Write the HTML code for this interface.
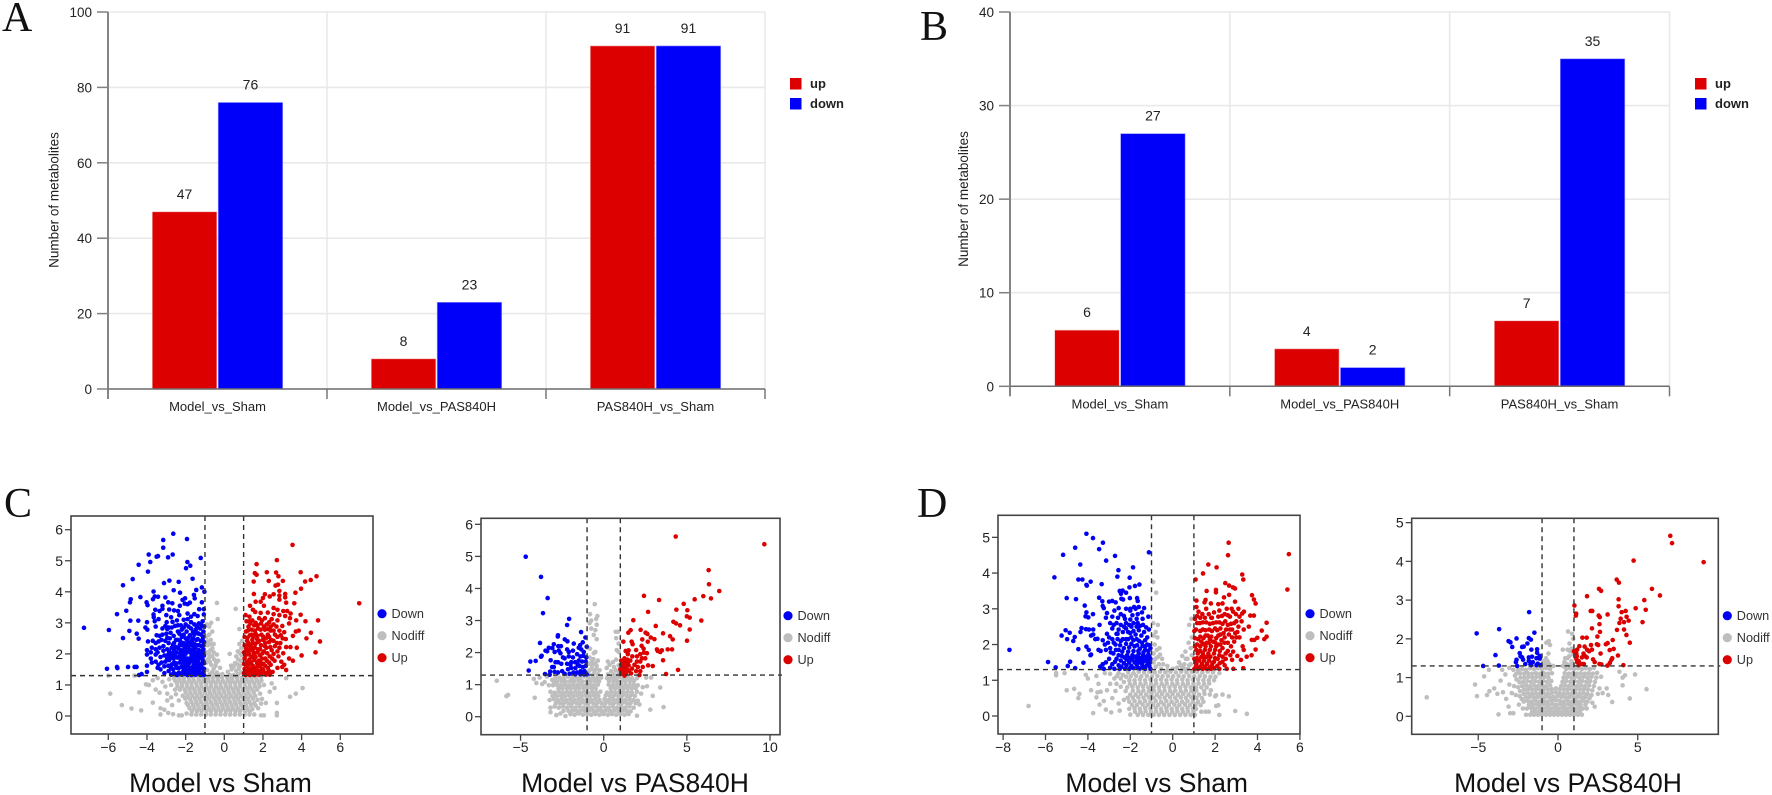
<!DOCTYPE html>
<html lang="en">
<head>
<meta charset="utf-8">
<title>Metabolite bar charts and volcano plots</title>
<style>
html,body{margin:0;padding:0;background:#fff;width:1772px;height:795px;overflow:hidden}
svg{display:block}
text{font-family:"Liberation Sans",sans-serif}
</style>
</head>
<body>
<svg id="fig" width="1772" height="795" viewBox="0 0 1772 795" xmlns="http://www.w3.org/2000/svg">
<rect width="1772" height="795" fill="#fff"/>
<text x="2" y="31" font-size="42" fill="#111" style="font-family:'Liberation Serif',serif">A</text>
<text x="920" y="40" font-size="42" fill="#111" style="font-family:'Liberation Serif',serif">B</text>
<text x="4" y="517" font-size="42" fill="#111" style="font-family:'Liberation Serif',serif">C</text>
<text x="917" y="517" font-size="42" fill="#111" style="font-family:'Liberation Serif',serif">D</text>
</svg>
<script>
const categories=["Model_vs_Sham","Model_vs_PAS840H","PAS840H_vs_Sham"];
const upA=[47,8,91];
const downA=[76,23,91];
const upB=[6,4,7];
const downB=[27,2,35];
const ticksA=[0,20,40,60,80,100];
const ticksB=[0,10,20,30,40];
const seriesNames=["up","down"];
const volcanoLegend=["Down","Nodiff","Up"];

const c1Ticks={x:[-6,-4,-2,0,2,4,6],y:[0,1,2,3,4,5,6]};
const c2Ticks={x:[-5,0,5,10],y:[0,1,2,3,4,5,6]};
const d1Ticks={x:[-8,-6,-4,-2,0,2,4,6],y:[0,1,2,3,4,5]};
const d2Ticks={x:[-5,0,5],y:[0,1,2,3,4,5]};

const c1Down=[[-7.26,2.84],[-5.97,2.77],[-6.07,1.52],[-5.55,3.28],[-5.55,1.58],[-5.53,1.54],[-5.24,4.21],[-5.24,2.51],[-5.07,3.39],[-4.98,1.58],[-4.91,2.74],[-4.86,3.07],[-4.88,3.66],[-4.84,3.76],[-4.74,4.41],[-4.64,1.58],[-4.54,1.58],[-4.53,2.65],[-4.43,4.87],[-4.43,2.49],[-4.45,3.07],[-4.34,3.83],[-4.41,1.32],[-2.64,5.87],[-1.93,5.7],[-3.16,5.67],[-3.16,5.42],[-3.91,5.2],[-3.43,5.15],[-3.5,5.13],[-2.67,5.2],[-2.91,5.11],[-1.22,5.09],[-1.91,4.96],[-3.83,4.96],[-1.76,4.84],[-1.98,4.76],[-3.95,4.65],[-1.64,4.42],[-2.84,4.36],[-3.12,4.28],[-2.36,4.32],[-1.16,4.14],[-1.45,4.06],[-1.03,4.0],[-2.62,4.05],[-2.29,3.97],[-3.66,4.01],[-3.6,3.85],[-3.43,3.84],[-3.69,3.76],[-3.05,3.82],[-1.57,3.9],[-2.03,3.79],[-2.16,3.74],[-1.53,3.79],[-4.02,3.66],[-3.97,3.57],[-2.9,3.66],[-2.69,3.63],[-1.78,3.65],[-1.16,3.66],[-1.9,3.6],[-2.3,3.55],[-2.05,3.62],[-3.2,3.55],[-3.2,3.45],[-3.57,3.42],[-3.66,3.27],[-3.65,3.18],[-3.35,3.38],[-2.85,3.43],[-2.6,3.4],[-2.4,3.38],[-2.33,3.25],[-1.9,3.3],[-1.3,3.44],[-1.06,3.44],[-1.06,3.27],[-1.72,3.2],[-1.55,3.28],[-1.38,3.22],[-3.6,3.05],[-3.4,3.12],[-3.0,3.25],[-2.75,3.18],[-2.98,3.02],[-2.68,3.03],[-2.45,3.08],[-2.1,3.1],[-1.9,3.12],[-4.0,3.02],[-4.08,2.85],[-3.98,2.78],[-3.55,2.88],[-3.2,2.82],[-3.05,2.9],[-2.88,2.85],[-2.55,2.9],[-2.25,2.92],[-2.0,2.95],[-1.72,3.02],[-1.55,2.95],[-1.32,2.98],[-1.12,3.05],[-1.04,2.88],[-3.5,2.6],[-3.35,2.58],[-3.7,2.42],[-3.55,2.35],[-3.25,2.45],[-3.0,2.65],[-2.78,2.68],[-2.62,2.58],[-2.4,2.72],[-2.2,2.78],[-1.95,2.72],[-1.72,2.82],[-1.48,2.78],[-1.25,2.82],[-1.08,2.72],[-3.95,2.4],[-3.05,2.42],[-2.88,2.35],[-2.6,2.35],[-2.4,2.45],[-2.2,2.55],[-2.0,2.5],[-1.78,2.6],[-1.55,2.62],[-1.32,2.65],[-1.1,2.55],[-3.75,2.2],[-3.55,2.15],[-3.8,2.05],[-4.0,2.12],[-4.0,1.98],[-3.8,1.85],[-3.55,1.98],[-3.35,2.2],[-3.15,2.25],[-2.95,2.15],[-2.72,2.2],[-2.5,2.22],[-2.3,2.3],[-2.1,2.35],[-1.88,2.38],[-1.68,2.42],[-1.45,2.45],[-1.22,2.42],[-1.05,2.38],[-4.0,1.62],[-3.75,1.72],[-3.55,1.75],[-3.3,1.9],[-3.1,1.95],[-2.9,1.98],[-2.7,2.02],[-2.48,2.05],[-2.25,2.12],[-2.05,2.18],[-1.85,2.2],[-1.62,2.25],[-1.4,2.28],[-1.18,2.25],[-3.45,1.55],[-3.25,1.72],[-3.05,1.75],[-2.85,1.8],[-2.62,1.85],[-2.42,1.88],[-2.2,1.95],[-2.0,2.0],[-1.78,2.05],[-1.55,2.08],[-1.32,2.12],[-1.08,2.15],[-4.28,1.35],[-4.0,1.42],[-3.3,1.5],[-3.1,1.6],[-2.9,1.62],[-2.72,1.66],[-2.52,1.7],[-2.32,1.72],[-2.1,1.82],[-1.9,1.85],[-1.7,1.92],[-1.45,1.95],[-1.22,1.98],[-1.05,1.95],[-3.1,1.38],[-2.88,1.45],[-2.65,1.5],[-2.45,1.55],[-2.22,1.58],[-2.02,1.65],[-1.82,1.7],[-1.58,1.78],[-1.35,1.82],[-1.12,1.82],[-2.75,1.33],[-2.55,1.36],[-2.35,1.4],[-2.12,1.45],[-1.92,1.52],[-1.72,1.55],[-1.48,1.62],[-1.25,1.68],[-1.05,1.7],[-2.2,1.33],[-2.0,1.35],[-1.8,1.4],[-1.6,1.44],[-1.38,1.5],[-1.15,1.55],[-1.7,1.32],[-1.5,1.33],[-1.28,1.38],[-1.08,1.42],[-1.05,1.32],[-1.22,1.32],[-1.4,1.38],[-1.9,1.32],[-2.05,1.4],[-1.6,1.62],[-1.75,1.75],[-1.9,1.62],[-2.15,1.7],[-2.35,1.55],[-1.32,1.7],[-1.5,1.85],[-1.7,2.12],[-1.5,2.2],[-2.0,1.5],[-2.45,1.32]];
const c1DownExtra=[[-2.62,1.38],[-2.28,1.36],[-1.98,1.42],[-1.75,1.46],[-1.52,1.5],[-1.3,1.48],[-1.12,1.36],[-2.75,1.55],[-2.5,1.62],[-2.12,1.58],[-1.82,1.56],[-1.62,1.52],[-1.42,1.6],[-1.2,1.62],[-1.05,1.52],[-2.6,1.72],[-2.25,1.84],[-2.0,1.76],[-1.78,1.82],[-1.55,1.7],[-1.35,1.6],[-1.12,1.72],[-2.95,1.85],[-2.72,1.88],[-2.32,1.92],[-2.05,1.88],[-1.85,1.78],[-1.62,1.88],[-1.4,1.76],[-1.18,1.88],[-2.8,1.92],[-2.55,1.96],[-2.3,2.02],[-2.08,2.08],[-1.6,1.98],[-1.36,1.92],[-1.1,2.02],[-2.85,2.08],[-2.6,2.12],[-2.38,2.18],[-2.12,2.0],[-1.9,2.1],[-1.62,2.12],[-1.38,2.04],[-1.14,2.08],[-2.65,2.3],[-2.2,2.28],[-1.98,2.28],[-1.75,2.3],[-1.55,2.32],[-1.3,2.28],[-1.1,2.28],[-2.82,2.5],[-2.5,2.45],[-2.28,2.42],[-1.92,2.45],[-1.62,2.5],[-1.38,2.48],[-1.12,2.46],[-3.2,2.62],[-2.95,2.52],[-2.32,2.65],[-2.1,2.62],[-1.85,2.52],[-1.42,2.68],[-1.2,2.62],[-3.4,2.4],[-3.15,2.1],[-3.45,2.05],[-3.4,1.65],[-2.95,2.8],[-2.72,2.85],[-2.4,2.92],[-2.1,2.85],[-1.85,2.88],[-1.62,2.7],[-1.42,2.88],[-1.18,2.92]];
const c1Nodiff=[[-0.38,3.64],[0.59,3.45],[-0.34,3.12],[0.78,2.8],[-0.68,3.0],[-0.78,2.88],[-0.9,2.95],[-0.62,2.72],[-0.78,2.62],[-0.92,2.55],[-0.7,2.45],[-0.55,2.32],[-0.85,2.28],[-0.72,2.12],[-0.9,2.05],[-0.55,2.05],[-0.38,1.98],[-0.78,1.88],[-0.52,1.82],[-0.32,1.78],[-0.92,1.72],[-0.68,1.65],[-0.45,1.62],[-0.22,1.55],[-0.88,1.48],[-0.62,1.42],[-0.38,1.4],[-0.1,1.35],[0.28,1.32],[0.92,2.42],[0.78,2.32],[0.88,2.18],[0.7,2.08],[0.9,1.95],[0.72,1.82],[0.55,1.7],[0.82,1.62],[0.38,1.5],[0.62,1.45],[0.88,1.4],[0.18,1.42],[0.48,1.32],[0.28,2.0],[0.35,1.62],[-3.9,1.0],[-3.7,1.15],[-3.45,1.22],[-3.2,1.1],[-3.55,0.85],[-3.35,0.75],[-3.05,0.95],[-2.85,1.18],[-2.6,1.22],[-2.35,1.25],[-2.1,1.22],[-1.85,1.25],[-1.6,1.24],[-1.35,1.26],[-1.1,1.24],[-0.85,1.22],[-0.6,1.24],[-0.35,1.22],[-0.12,1.25],[0.15,1.24],[0.4,1.22],[0.65,1.25],[0.9,1.23],[1.15,1.25],[1.4,1.24],[1.65,1.22],[1.9,1.26],[2.45,1.05],[2.6,0.9],[2.35,0.78],[2.05,1.0],[3.2,1.22],[3.7,0.72],[3.4,0.62],[4.05,0.9],[-2.75,1.0],[-2.45,1.05],[-2.2,1.05],[-1.95,1.05],[-1.7,1.05],[-1.45,1.05],[-1.2,1.05],[-0.95,1.05],[-0.7,1.05],[-0.45,1.05],[-0.2,1.05],[0.05,1.05],[0.3,1.05],[0.55,1.05],[0.8,1.05],[1.05,1.05],[1.3,1.05],[1.55,1.05],[1.8,1.05],[-2.55,0.85],[-2.3,0.85],[-2.05,0.85],[-1.8,0.85],[-1.55,0.85],[-1.3,0.85],[-1.05,0.85],[-0.8,0.85],[-0.55,0.85],[-0.3,0.85],[-0.05,0.85],[0.2,0.85],[0.45,0.85],[0.7,0.85],[0.95,0.85],[1.2,0.85],[1.45,0.85],[1.7,0.85],[-2.15,0.65],[-1.9,0.65],[-1.65,0.65],[-1.4,0.65],[-1.15,0.65],[-0.9,0.65],[-0.65,0.65],[-0.4,0.65],[-0.15,0.65],[0.1,0.65],[0.35,0.65],[0.6,0.65],[0.85,0.65],[1.1,0.65],[1.35,0.65],[1.6,0.65],[1.95,0.55],[-2.95,0.5],[-2.75,0.6],[-1.95,0.42],[-1.7,0.45],[-1.45,0.45],[-1.2,0.45],[-0.95,0.45],[-0.7,0.45],[-0.45,0.45],[-0.2,0.45],[0.05,0.45],[0.3,0.45],[0.55,0.45],[0.8,0.45],[1.05,0.45],[1.3,0.45],[1.55,0.42],[1.9,0.4],[2.15,0.42],[-1.8,0.25],[-1.55,0.25],[-1.3,0.25],[-1.05,0.25],[-0.8,0.25],[-0.55,0.25],[-0.3,0.25],[-0.05,0.25],[0.2,0.25],[0.45,0.25],[0.7,0.25],[0.95,0.25],[1.2,0.25],[1.45,0.22],[1.75,0.25],[-3.3,0.25],[-3.1,0.2],[-2.9,0.1],[-3.3,0.05],[-2.65,0.06],[-2.35,0.02],[-2.2,0.02],[-1.95,0.08],[-1.7,0.05],[-1.45,0.05],[-1.2,0.05],[-0.95,0.05],[-0.7,0.05],[-0.45,0.05],[-0.2,0.05],[0.05,0.05],[0.3,0.05],[0.55,0.05],[0.8,0.05],[1.05,0.05],[1.3,0.05],[1.55,0.05],[1.9,0.02],[2.05,0.02],[2.72,0.02],[2.72,0.1],[2.72,0.42],[-5.9,0.72],[-5.3,0.35],[-4.8,0.24],[-4.3,0.18],[-4.4,0.76],[-3.7,0.43],[-4.05,1.02],[-4.65,1.3],[-6.0,1.3],[-2.95,0.72],[-2.7,0.35],[-2.35,0.5],[-2.5,0.7]];
const c1NodiffExtra=[[-2.55,1.14],[-2.32,1.15],[-2.08,1.13],[-1.82,1.15],[-1.58,1.14],[-1.32,1.16],[-1.08,1.14],[-0.82,1.15],[-0.58,1.13],[-0.33,1.15],[-0.08,1.14],[0.18,1.15],[0.42,1.14],[0.68,1.15],[0.92,1.14],[1.18,1.15],[1.42,1.14],[1.68,1.15],[1.92,1.14],[-2.42,0.95],[-2.18,0.96],[-1.92,0.95],[-1.68,0.94],[-1.42,0.96],[-1.18,0.95],[-0.92,0.94],[-0.68,0.96],[-0.42,0.95],[-0.18,0.94],[0.08,0.96],[0.32,0.95],[0.58,0.94],[0.82,0.96],[1.08,0.95],[1.32,0.94],[1.58,0.96],[1.82,0.95],[-2.0,0.76],[-1.75,0.75],[-1.5,0.76],[-1.25,0.75],[-1.0,0.76],[-0.75,0.75],[-0.5,0.76],[-0.25,0.75],[0,0.76],[0.25,0.75],[0.5,0.76],[0.75,0.75],[1.0,0.76],[1.25,0.75],[1.52,0.76],[1.85,0.72],[-2.02,0.56],[-1.78,0.55],[-1.52,0.56],[-1.28,0.55],[-1.02,0.56],[-0.78,0.55],[-0.52,0.56],[-0.28,0.55],[-0.02,0.56],[0.22,0.55],[0.48,0.56],[0.72,0.55],[0.98,0.56],[1.22,0.55],[1.48,0.56],[1.72,0.52],[-1.88,0.35],[-1.62,0.35],[-1.38,0.36],[-1.12,0.35],[-0.88,0.36],[-0.62,0.35],[-0.38,0.36],[-0.12,0.35],[0.12,0.36],[0.38,0.35],[0.62,0.36],[0.88,0.35],[1.12,0.36],[1.38,0.35],[1.62,0.34],[-1.68,0.15],[-1.42,0.15],[-1.18,0.16],[-0.92,0.15],[-0.68,0.16],[-0.42,0.15],[-0.18,0.16],[0.08,0.15],[0.32,0.16],[0.58,0.15],[0.82,0.16],[1.08,0.15],[1.32,0.14],[-0.72,2.32],[-0.88,2.4],[-0.62,2.18],[-0.8,2.0],[-0.62,1.92],[-0.86,1.82],[-0.42,1.72],[-0.75,1.75],[-0.55,1.52],[-0.75,1.35],[-0.5,1.32],[-0.25,1.32],[0.82,2.02],[0.62,1.92],[0.85,1.78],[0.68,1.66],[0.48,1.58],[0.75,1.52],[0.72,1.34]];
const c1Up=[[3.53,5.51],[2.72,5.02],[1.67,4.89],[1.58,4.6],[1.67,4.55],[2.2,4.63],[2.68,4.62],[2.8,4.5],[3.95,4.63],[4.77,4.5],[4.47,4.38],[4.18,4.33],[1.52,4.33],[2.3,4.35],[3.03,4.35],[2.65,4.2],[2.78,4.23],[3.97,4.1],[2.85,4.03],[3.68,3.97],[1.53,3.93],[2.1,3.92],[2.55,3.92],[2.85,3.88],[3.15,3.93],[3.15,3.82],[2.0,3.8],[2.35,3.85],[2.85,3.75],[6.98,3.63],[3.62,3.63],[3.2,3.65],[1.33,3.55],[1.62,3.68],[1.88,3.68],[2.05,3.55],[1.48,3.42],[2.55,3.48],[2.75,3.42],[3.05,3.38],[3.25,3.38],[3.43,3.3],[3.95,3.26],[4.85,3.08],[4.2,3.05],[3.72,3.08],[3.4,3.15],[3.15,3.22],[2.85,3.25],[2.55,3.28],[2.25,3.33],[1.88,3.32],[1.6,3.35],[1.1,3.25],[1.3,3.2],[4.95,2.4],[4.48,2.68],[4.25,2.5],[3.85,2.75],[3.7,2.72],[3.55,2.58],[3.0,2.9],[3.35,2.98],[2.75,3.08],[2.45,3.12],[2.1,3.15],[1.8,3.15],[1.45,3.08],[1.15,3.05],[1.25,2.88],[1.55,2.92],[1.9,2.98],[2.2,2.95],[2.55,2.95],[2.85,2.75],[3.1,2.7],[3.18,2.48],[2.75,2.55],[2.4,2.75],[2.1,2.78],[1.75,2.82],[1.42,2.78],[1.12,2.72],[1.05,2.55],[1.32,2.6],[1.62,2.65],[1.92,2.62],[2.25,2.62],[2.55,2.42],[2.9,2.35],[3.2,2.22],[3.42,2.22],[3.75,2.2],[4.0,1.95],[4.72,2.05],[2.62,2.25],[2.32,2.38],[2.0,2.45],[1.7,2.48],[1.45,2.45],[1.18,2.42],[1.05,2.28],[1.32,2.28],[1.6,2.32],[1.9,2.28],[2.18,2.2],[2.45,2.12],[2.75,2.08],[3.35,1.85],[3.55,1.78],[2.95,1.75],[3.1,1.65],[3.2,1.48],[3.0,1.58],[2.6,1.78],[2.75,1.55],[2.35,1.92],[2.05,2.08],[1.75,2.15],[1.45,2.12],[1.18,2.12],[1.02,2.05],[1.3,1.98],[1.55,1.98],[1.85,1.95],[2.12,1.85],[2.4,1.65],[1.05,1.85],[1.3,1.82],[1.55,1.8],[1.78,1.78],[2.02,1.68],[2.25,1.55],[2.5,1.42],[2.05,1.4],[1.02,1.68],[1.25,1.65],[1.48,1.62],[1.72,1.6],[1.95,1.52],[2.2,1.38],[1.05,1.52],[1.28,1.5],[1.5,1.48],[1.72,1.45],[1.9,1.36],[2.15,1.33],[2.35,1.33],[1.02,1.38],[1.22,1.37],[1.42,1.35],[1.62,1.34],[1.8,1.33],[1.1,1.32],[1.32,1.32],[1.55,1.32],[1.15,1.6],[1.38,1.72],[1.62,1.9],[1.4,2.22],[1.15,2.25],[1.72,2.38],[2.32,3.02],[2.15,2.5],[1.85,1.62],[1.5,2.55],[1.62,3.0]];
const c1UpExtra=[[1.12,1.44],[1.35,1.42],[1.58,1.4],[1.82,1.46],[2.02,1.48],[2.3,1.46],[1.18,1.74],[1.42,1.55],[1.62,1.55],[1.88,1.72],[2.12,1.62],[2.32,1.72],[1.1,1.95],[1.42,1.9],[1.7,1.7],[1.95,1.85],[2.2,1.78],[2.48,1.85],[1.25,2.05],[1.52,2.05],[1.72,2.05],[1.98,2.02],[2.22,2.02],[2.55,2.0],[2.8,1.92],[1.12,2.18],[1.32,2.15],[1.58,2.2],[1.85,2.15],[2.1,2.25],[2.38,2.22],[2.85,2.2],[3.05,2.02],[1.25,2.35],[1.48,2.35],[1.8,2.42],[2.12,2.35],[2.42,2.45],[2.72,2.35],[3.02,2.5],[1.2,2.52],[1.42,2.62],[1.72,2.58],[2.02,2.55],[2.32,2.55],[2.62,2.62],[2.92,2.6],[1.22,2.75],[1.58,2.75],[1.88,2.78],[2.25,2.8],[2.55,2.75],[1.35,2.98],[1.72,2.92],[2.05,2.88],[2.4,2.88],[2.7,2.88],[1.3,3.05],[1.95,3.08]];

const c2Down=[[-4.69,4.99],[-3.77,4.36],[-3.37,3.7],[-3.65,3.23],[-2.08,3.05],[-2.2,2.86],[-1.36,2.64],[-1.1,2.47],[-2.75,2.54],[-2.76,2.5],[-3.83,2.3],[-2.34,2.41],[-2.18,2.35],[-3.0,2.26],[-3.3,2.15],[-3.09,2.14],[-2.73,2.2],[-2.57,2.2],[-1.8,2.28],[-1.26,2.32],[-1.02,2.18],[-1.42,2.23],[-3.5,2.06],[-3.4,2.04],[-3.77,1.87],[-3.73,1.9],[-4.41,1.72],[-4.09,1.74],[-4.51,1.44],[-3.19,1.76],[-3.53,1.33],[-3.22,1.41],[-3.25,1.31],[-2.95,2.02],[-2.7,2.06],[-2.6,1.98],[-2.2,2.1],[-2.1,2.02],[-1.85,2.06],[-1.5,2.15],[-1.35,2.1],[-1.2,2.02],[-2.9,1.7],[-3.1,1.55],[-3.0,1.55],[-2.75,1.7],[-2.45,1.85],[-2.35,1.82],[-2.1,1.88],[-1.85,1.85],[-1.6,1.95],[-1.4,1.88],[-1.22,1.9],[-1.05,1.85],[-2.55,1.65],[-2.2,1.65],[-1.95,1.7],[-1.72,1.7],[-1.5,1.75],[-1.3,1.72],[-1.08,1.72],[-2.95,1.4],[-2.75,1.38],[-2.5,1.42],[-2.15,1.48],[-1.95,1.52],[-1.7,1.52],[-1.45,1.58],[-1.25,1.55],[-1.08,1.58],[-2.35,1.34],[-2.05,1.34],[-1.82,1.38],[-1.6,1.38],[-1.38,1.42],[-1.15,1.42],[-1.4,1.32],[-1.18,1.32],[-1.72,1.32],[-1.02,1.32],[-2.0,1.62],[-1.55,1.62]];
const c2Nodiff=[[-0.54,3.51],[-0.38,3.14],[-0.82,3.2],[-0.45,3.05],[-0.75,3.0],[-0.85,2.92],[-0.42,2.87],[-0.75,2.75],[-0.5,2.7],[-0.6,2.55],[-0.42,2.42],[0.85,2.65],[0.75,2.45],[0.72,2.65],[0.9,2.28],[0.78,2.08],[0.9,2.02],[-0.82,2.12],[-0.6,1.98],[-0.5,2.02],[-0.85,1.85],[-0.62,1.8],[-0.35,1.75],[-0.9,1.65],[-0.7,1.6],[-0.42,1.58],[-0.85,1.45],[-0.55,1.42],[-0.25,1.45],[0.25,1.72],[0.55,1.7],[0.75,1.78],[0.9,1.6],[0.18,1.52],[0.45,1.42],[0.72,1.45],[0.92,1.38],[-6.43,1.12],[-5.85,0.64],[-5.75,0.68],[-4.15,0.59],[3.6,0.3],[2.8,0.22],[2.95,0.65],[3.4,0.91],[-4.2,1.18],[-4.05,1.05],[-3.85,1.22],[-3.7,1.02],[-3.55,1.08],[-3.4,1.25],[-3.1,1.15],[-2.9,1.22],[-2.65,1.22],[-2.4,1.2],[-2.15,1.25],[-1.9,1.2],[-1.65,1.22],[-1.4,1.2],[-1.15,1.25],[-0.9,1.2],[-0.65,1.22],[-0.4,1.2],[-0.15,1.22],[0.2,1.2],[0.45,1.22],[0.7,1.2],[0.95,1.24],[1.2,1.2],[1.45,1.22],[1.7,1.2],[2.0,1.2],[2.55,1.22],[2.85,1.22],[2.6,0.95],[2.35,0.92],[-3.3,0.98],[-3.05,0.98],[-2.85,1.0],[-2.6,0.98],[-2.35,1.0],[-2.1,0.98],[-1.85,1.0],[-1.6,0.98],[-1.35,1.0],[-1.1,0.98],[-0.85,1.0],[-0.6,0.98],[-0.35,1.0],[0.3,1.0],[0.55,0.98],[0.8,1.0],[1.05,0.98],[1.3,1.0],[1.55,0.98],[1.8,1.0],[2.05,0.98],[-3.2,0.78],[-2.95,0.75],[-2.7,0.78],[-2.45,0.75],[-2.2,0.78],[-1.95,0.75],[-1.7,0.78],[-1.45,0.75],[-1.2,0.78],[-0.95,0.75],[-0.7,0.78],[-0.45,0.75],[-0.2,0.78],[0.2,0.75],[0.45,0.78],[0.7,0.75],[0.95,0.78],[1.2,0.75],[1.45,0.78],[1.7,0.75],[2.0,0.78],[2.25,0.72],[-3.25,0.52],[-3.0,0.55],[-2.75,0.52],[-2.5,0.55],[-2.25,0.52],[-2.0,0.55],[-1.75,0.52],[-1.5,0.55],[-1.25,0.52],[-1.0,0.55],[-0.75,0.52],[-0.5,0.55],[-0.25,0.52],[0.05,0.55],[0.3,0.52],[0.55,0.55],[0.8,0.52],[1.05,0.55],[1.3,0.52],[1.55,0.55],[1.8,0.52],[2.05,0.5],[2.15,0.38],[-3.2,0.28],[-2.95,0.32],[-2.7,0.28],[-2.45,0.32],[-2.2,0.28],[-1.95,0.32],[-1.7,0.28],[-1.45,0.32],[-1.2,0.28],[-0.95,0.32],[-0.7,0.28],[-0.45,0.32],[-0.2,0.28],[0.05,0.32],[0.3,0.28],[0.55,0.32],[0.8,0.28],[1.05,0.32],[1.3,0.28],[1.55,0.32],[1.8,0.28],[-3.2,0.14],[-2.85,0.05],[-2.6,0.1],[-2.3,0.02],[-2.0,0.08],[-1.75,0.06],[-1.5,0.1],[-1.25,0.06],[-1.0,0.08],[-0.75,0.06],[-0.5,0.08],[-0.25,0.06],[0,0.08],[0.25,0.06],[0.5,0.08],[0.75,0.06],[1.0,0.08],[1.25,0.06],[1.5,0.08],[2.0,0.03]];
const c2NodiffExtra=[[-3.0,1.1],[-2.78,1.1],[-2.52,1.11],[-2.28,1.1],[-2.02,1.11],[-1.78,1.1],[-1.52,1.11],[-1.28,1.1],[-1.02,1.11],[-0.78,1.1],[-0.52,1.11],[-0.28,1.1],[0.32,1.11],[0.58,1.1],[0.82,1.11],[1.08,1.1],[1.32,1.11],[1.58,1.1],[1.82,1.11],[-2.72,0.88],[-2.48,0.88],[-2.22,0.89],[-1.98,0.88],[-1.72,0.89],[-1.48,0.88],[-1.22,0.89],[-0.98,0.88],[-0.72,0.89],[-0.48,0.88],[0.42,0.89],[0.68,0.88],[0.92,0.89],[1.18,0.88],[1.42,0.89],[1.68,0.88],[1.92,0.89],[-3.08,0.65],[-2.82,0.65],[-2.58,0.66],[-2.32,0.65],[-2.08,0.66],[-1.82,0.65],[-1.58,0.66],[-1.32,0.65],[-1.08,0.66],[-0.82,0.65],[-0.58,0.66],[-0.32,0.65],[0.12,0.66],[0.38,0.65],[0.62,0.66],[0.88,0.65],[1.12,0.66],[1.38,0.65],[1.62,0.66],[1.88,0.65],[-2.88,0.42],[-2.62,0.42],[-2.38,0.43],[-2.12,0.42],[-1.88,0.43],[-1.62,0.42],[-1.38,0.43],[-1.12,0.42],[-0.88,0.43],[-0.62,0.42],[-0.38,0.43],[-0.12,0.42],[0.12,0.43],[0.38,0.42],[0.62,0.43],[0.88,0.42],[1.12,0.43],[1.38,0.42],[1.62,0.43],[1.92,0.42],[-2.42,0.18],[-2.12,0.18],[-1.88,0.19],[-1.62,0.18],[-1.38,0.19],[-1.12,0.18],[-0.88,0.19],[-0.62,0.18],[-0.38,0.19],[-0.12,0.18],[0.12,0.19],[0.38,0.18],[0.62,0.19],[0.88,0.18],[1.12,0.19],[1.38,0.18],[1.62,0.17],[-0.62,1.32],[-0.92,1.34],[-0.35,1.32],[0.25,1.32],[0.6,1.32],[0.85,1.3],[-0.72,1.72],[-0.5,1.66],[-0.72,1.5],[-0.45,1.48],[0.62,1.55],[0.35,1.62]];
const c2Up=[[4.33,5.62],[9.66,5.38],[6.31,4.57],[6.33,4.13],[6.95,3.92],[5.99,3.76],[6.45,3.69],[5.47,3.66],[4.81,3.52],[2.42,3.77],[3.33,3.64],[4.37,3.34],[5.03,3.32],[2.67,3.27],[5.0,3.13],[5.17,3.09],[5.87,3.0],[1.78,3.01],[4.19,2.96],[4.35,2.91],[4.59,2.85],[3.13,2.83],[5.17,2.72],[2.22,2.71],[1.62,2.7],[1.48,2.62],[2.52,2.62],[2.63,2.58],[3.57,2.6],[3.99,2.51],[4.15,2.41],[5.01,2.37],[2.32,2.41],[2.83,2.47],[3.05,2.42],[1.18,2.34],[1.68,2.34],[1.74,2.26],[2.65,2.34],[2.28,2.21],[3.85,2.1],[4.11,2.1],[3.2,2.1],[3.25,2.05],[3.4,2.02],[3.5,2.07],[3.57,1.76],[4.47,1.46],[3.75,1.33],[2.95,1.58],[2.67,1.6],[1.32,2.05],[1.5,2.07],[1.45,1.95],[1.95,2.08],[2.4,2.12],[2.42,2.0],[2.2,1.95],[2.6,1.98],[2.0,1.88],[1.72,1.88],[2.3,1.82],[2.5,1.82],[1.25,1.82],[1.05,1.75],[1.2,1.72],[1.42,1.78],[1.6,1.75],[2.0,1.72],[2.2,1.72],[1.1,1.6],[1.3,1.6],[1.5,1.6],[1.85,1.62],[2.05,1.55],[2.35,1.55],[1.0,1.48],[1.2,1.5],[1.42,1.46],[1.7,1.5],[1.95,1.42],[2.2,1.42],[1.15,1.38],[1.35,1.36],[1.25,1.28],[1.65,1.35],[2.15,1.3],[1.05,1.62]];
const c2UpExtra=[[1.05,1.42],[1.1,1.52],[1.22,1.44],[1.32,1.54],[1.38,1.42],[1.12,1.68],[1.3,1.68],[1.45,1.68],[1.05,1.34],[1.28,1.35],[1.5,1.44]];

const d1Down=[[-7.7,1.85],[-5.88,1.51],[-5.52,1.36],[-4.07,5.1],[-3.76,4.98],[-3.29,4.85],[-3.47,4.67],[-4.6,4.71],[-5.17,4.51],[-2.72,4.48],[-3.14,4.35],[-1.12,4.58],[-4.36,4.24],[-1.87,4.16],[-2.56,4.08],[-5.58,3.88],[-4.45,3.82],[-4.26,3.82],[-3.87,3.76],[-4.07,3.67],[-4.05,3.65],[-3.35,3.69],[-2.61,3.9],[-2.03,3.87],[-1.57,3.68],[-2.04,3.6],[-1.78,3.64],[-5.0,3.3],[-4.56,3.27],[-3.47,3.31],[-3.32,3.21],[-3.0,3.2],[-2.85,3.22],[-2.69,3.18],[-2.36,3.51],[-2.44,3.42],[-2.2,3.45],[-2.02,3.3],[-2.34,3.26],[-2.42,3.28],[-1.68,3.3],[-1.65,3.22],[-2.5,3.5],[-4.15,3.09],[-4.07,2.9],[-3.76,2.85],[-4.11,2.79],[-3.98,2.76],[-3.3,3.08],[-3.25,3.02],[-2.85,2.78],[-3.1,2.88],[-2.95,2.6],[-2.45,2.85],[-2.3,2.8],[-2.0,2.95],[-2.0,3.0],[-1.75,3.0],[-1.6,3.05],[-1.35,3.02],[-1.15,2.78],[-1.9,2.82],[-1.65,2.85],[-1.45,2.9],[-3.15,2.75],[-3.45,2.55],[-3.95,2.42],[-4.3,2.46],[-4.09,2.43],[-4.35,2.35],[-5.05,2.4],[-5.24,2.25],[-4.86,2.33],[-4.98,2.15],[-4.62,2.21],[-4.69,2.1],[-4.45,1.87],[-4.07,1.94],[-3.96,1.85],[-3.88,1.7],[-3.85,1.72],[-4.21,1.49],[-4.84,1.52],[-4.95,1.4],[-4.6,1.34],[-3.75,2.42],[-3.75,2.28],[-3.65,2.15],[-3.55,2.16],[-3.85,2.25],[-3.3,2.12],[-3.2,2.0],[-3.1,2.3],[-3.0,2.2],[-2.85,2.45],[-2.65,2.6],[-2.45,2.55],[-2.2,2.6],[-2.05,2.55],[-1.85,2.6],[-1.65,2.6],[-1.4,2.55],[-1.12,2.42],[-1.35,2.35],[-1.6,2.4],[-1.85,2.38],[-2.1,2.35],[-2.35,2.35],[-2.6,2.3],[-2.85,2.15],[-3.05,2.05],[-3.5,1.85],[-3.4,1.82],[-3.15,1.85],[-2.95,1.9],[-2.7,2.0],[-2.45,2.1],[-2.2,2.15],[-1.95,2.2],[-1.7,2.15],[-1.45,2.05],[-1.2,2.0],[-1.05,1.9],[-1.3,1.85],[-1.55,1.88],[-1.8,1.95],[-2.05,1.92],[-2.3,1.9],[-2.55,1.85],[-2.8,1.75],[-3.0,1.6],[-3.3,1.45],[-3.42,1.38],[-3.25,1.32],[-3.15,1.5],[-2.85,1.45],[-2.65,1.6],[-2.4,1.68],[-2.15,1.7],[-1.9,1.7],[-1.65,1.68],[-1.4,1.7],[-1.15,1.72],[-1.05,1.6],[-1.3,1.55],[-1.55,1.5],[-1.8,1.5],[-2.05,1.5],[-2.3,1.48],[-2.55,1.42],[-2.75,1.32],[-2.5,1.32],[-2.25,1.32],[-2.05,1.32],[-1.85,1.34],[-1.65,1.36],[-1.4,1.38],[-1.15,1.45],[-1.05,1.32],[-1.3,1.32],[-1.55,1.33],[-1.45,1.6],[-1.2,1.6],[-1.7,1.58],[-2.95,1.35],[-1.08,1.5],[-1.6,1.75],[-1.3,1.95],[-2.2,2.45],[-2.6,2.15],[-1.7,2.5],[-1.2,2.2]];
const d1DownExtra=[[-1.1,1.4],[-1.22,1.42],[-1.45,1.45],[-1.7,1.44],[-1.95,1.4],[-2.18,1.42],[-2.42,1.38],[-1.18,1.52],[-1.4,1.52],[-1.62,1.54],[-1.92,1.58],[-2.18,1.58],[-2.45,1.55],[-2.72,1.52],[-1.1,1.66],[-1.3,1.66],[-1.55,1.62],[-1.78,1.66],[-2.02,1.62],[-2.28,1.64],[-2.55,1.7],[-1.15,1.82],[-1.38,1.78],[-1.62,1.82],[-1.85,1.82],[-2.1,1.8],[-2.38,1.8],[-2.68,1.85],[-2.92,1.78],[-1.1,1.98],[-1.42,1.96],[-1.68,1.98],[-1.95,2.02],[-2.2,2.02],[-2.48,1.98],[-2.78,2.05],[-1.3,2.12],[-1.58,2.1],[-1.85,2.12],[-2.1,2.15],[-2.35,2.15],[-2.65,2.3],[-1.48,2.25],[-1.75,2.28],[-2.0,2.32],[-2.3,2.5],[-2.55,2.42],[-2.78,2.55],[-1.25,2.48],[-1.55,2.52],[-1.95,2.5],[-2.0,2.7],[-2.25,2.72],[-2.58,2.75],[-1.7,2.72],[-1.42,2.72],[-1.82,3.05],[-2.2,3.0],[-2.55,3.02],[-2.75,2.95]];
const d1Nodiff=[[-6.8,0.28],[-5.5,1.2],[-5.5,1.14],[-5.1,1.2],[-5.0,0.72],[-4.65,0.76],[-4.4,0.62],[-4.45,0.5],[-4.1,1.15],[-4.0,1.05],[-3.85,0.72],[-3.6,1.12],[-3.5,0.9],[-3.55,0.66],[-3.4,0.68],[-3.6,0.52],[-3.45,0.32],[-3.75,0.08],[-3.25,0.42],[-3.15,0.18],[-2.9,0.1],[-3.1,0.72],[-2.95,0.9],[-2.85,0.5],[-2.7,0.7],[-2.55,0.35],[-2.5,0.15],[-3.2,1.2],[-2.95,1.18],[-2.75,1.05],[-2.55,1.2],[-2.35,1.15],[-2.1,1.22],[-1.85,1.2],[-1.6,1.24],[-1.35,1.22],[-1.1,1.24],[-0.85,1.22],[-0.6,1.24],[-0.35,1.22],[-0.1,1.24],[0.15,1.22],[0.4,1.24],[0.65,1.22],[0.9,1.24],[-2.3,0.95],[-2.05,1.0],[-1.8,1.0],[-1.55,1.02],[-1.3,1.0],[-1.05,1.02],[-0.8,1.0],[-0.55,1.02],[-0.3,1.0],[-0.05,1.02],[0.2,1.0],[0.45,1.02],[0.7,1.0],[0.95,1.02],[-2.15,0.8],[-1.9,0.82],[-1.65,0.8],[-1.4,0.82],[-1.15,0.8],[-0.9,0.82],[-0.65,0.8],[-0.4,0.82],[-0.15,0.8],[0.1,0.82],[0.35,0.8],[0.6,0.82],[0.85,0.8],[-2.0,0.6],[-1.75,0.6],[-1.5,0.62],[-1.25,0.6],[-1.0,0.62],[-0.75,0.6],[-0.5,0.62],[-0.25,0.6],[0,0.62],[0.25,0.6],[0.5,0.62],[0.75,0.6],[1.0,0.62],[-2.3,0.45],[-2.05,0.4],[-1.8,0.42],[-1.55,0.4],[-1.3,0.42],[-1.05,0.4],[-0.8,0.42],[-0.55,0.4],[-0.3,0.42],[-0.05,0.4],[0.2,0.42],[0.45,0.4],[0.7,0.42],[0.95,0.4],[-2.05,0.2],[-1.8,0.22],[-1.55,0.2],[-1.3,0.22],[-1.05,0.2],[-0.8,0.22],[-0.55,0.2],[-0.3,0.22],[-0.05,0.2],[0.2,0.22],[0.45,0.2],[0.7,0.22],[0.95,0.2],[-2.0,0.04],[-1.65,0.03],[-1.4,0.03],[-1.15,0.03],[-0.9,0.03],[-0.65,0.03],[-0.4,0.03],[-0.15,0.03],[0.1,0.03],[0.35,0.03],[0.6,0.03],[0.85,0.03],[1.05,0.03],[-0.92,3.75],[-0.78,3.45],[-0.92,2.6],[-0.7,2.55],[-0.8,2.35],[-0.9,2.25],[-0.72,2.2],[-0.85,2.0],[-0.75,1.85],[-0.62,1.9],[-0.9,1.75],[-0.7,1.65],[-0.5,1.6],[-0.9,1.5],[-0.65,1.45],[-0.45,1.45],[-0.25,1.4],[0.88,2.72],[0.78,2.55],[0.9,2.2],[0.75,2.05],[0.85,1.9],[0.6,1.8],[0.9,1.7],[0.45,1.68],[0.7,1.6],[0.3,1.5],[0.55,1.45],[0.85,1.45],[0.2,1.35],[0.45,1.35],[0.72,1.32],[0,1.32],[-0.25,1.28],[1.15,1.24],[1.4,1.22],[1.65,1.24],[1.9,1.22],[2.2,1.2],[1.2,1.02],[1.45,1.0],[1.7,1.0],[1.95,1.0],[1.1,0.8],[1.35,0.8],[1.6,0.8],[1.25,0.6],[1.5,0.62],[1.75,0.6],[2.05,0.58],[2.35,0.6],[1.2,0.4],[1.45,0.4],[2.0,0.55],[2.15,0.3],[2.05,0.28],[1.1,0.2],[1.35,0.12],[1.55,0.12],[2.2,0.03],[2.95,0.14],[3.5,0.06],[2.65,0.55],[1.7,0.12]];
const d1NodiffExtra=[[-2.2,1.1],[-1.98,1.11],[-1.72,1.12],[-1.48,1.11],[-1.22,1.12],[-0.98,1.11],[-0.72,1.12],[-0.48,1.11],[-0.22,1.12],[0.02,1.11],[0.28,1.12],[0.52,1.11],[0.78,1.12],[1.02,1.11],[1.28,1.12],[1.52,1.11],[1.78,1.1],[2.02,1.1],[-2.02,0.9],[-1.78,0.91],[-1.52,0.9],[-1.28,0.91],[-1.02,0.9],[-0.78,0.91],[-0.52,0.9],[-0.28,0.91],[-0.02,0.9],[0.22,0.91],[0.48,0.9],[0.72,0.91],[0.98,0.9],[1.22,0.91],[1.48,0.9],[1.72,0.91],[-2.22,0.7],[-1.88,0.71],[-1.62,0.7],[-1.38,0.71],[-1.12,0.7],[-0.88,0.71],[-0.62,0.7],[-0.38,0.71],[-0.12,0.7],[0.12,0.71],[0.38,0.7],[0.62,0.71],[0.88,0.7],[1.12,0.71],[1.48,0.7],[1.8,0.72],[-2.12,0.51],[-1.88,0.51],[-1.62,0.52],[-1.38,0.51],[-1.12,0.52],[-0.88,0.51],[-0.62,0.52],[-0.38,0.51],[-0.12,0.52],[0.12,0.51],[0.38,0.52],[0.62,0.51],[0.88,0.52],[1.12,0.51],[1.38,0.5],[-1.92,0.31],[-1.68,0.31],[-1.42,0.32],[-1.18,0.31],[-0.92,0.32],[-0.68,0.31],[-0.42,0.32],[-0.18,0.31],[0.08,0.32],[0.32,0.31],[0.58,0.32],[0.82,0.31],[1.08,0.32],[1.32,0.3],[-1.78,0.12],[-1.52,0.12],[-1.28,0.13],[-1.02,0.12],[-0.78,0.13],[-0.52,0.12],[-0.28,0.13],[-0.02,0.12],[0.22,0.13],[0.48,0.12],[0.72,0.13],[0.98,0.12],[-0.8,1.38],[-0.55,1.32],[-0.82,1.6],[-0.6,1.72],[0.62,1.6],[0.78,1.42],[0.38,1.42],[0.55,1.32],[-2.45,1.05],[-2.62,1.12],[-2.45,0.82],[-2.65,0.9],[1.7,1.32],[1.95,1.3]];
const d1Up=[[2.64,4.85],[2.61,4.5],[5.48,4.53],[5.41,3.54],[1.68,4.24],[2.07,4.16],[1.43,3.99],[3.28,3.96],[3.33,3.82],[2.48,3.72],[2.66,3.65],[2.84,3.6],[2.94,3.57],[2.04,3.53],[2.04,3.46],[1.6,3.5],[3.74,3.38],[3.83,3.26],[3.91,3.15],[2.66,3.39],[2.42,3.32],[2.94,3.2],[1.55,3.25],[1.5,3.18],[1.8,3.15],[2.15,3.13],[2.35,3.15],[3.36,2.92],[3.28,2.87],[2.98,2.85],[3.15,2.78],[3.66,2.81],[3.83,2.81],[4.43,2.61],[3.59,2.5],[4.2,2.39],[4.43,2.22],[4.32,2.15],[3.99,2.19],[3.73,2.13],[3.85,2.13],[4.73,1.78],[3.91,1.86],[3.72,1.7],[3.49,1.66],[3.3,1.95],[3.35,1.85],[3.22,1.57],[3.33,1.34],[2.86,1.32],[2.8,1.57],[1.08,3.82],[1.12,3.23],[1.12,3.05],[1.02,2.38],[1.22,2.92],[1.4,2.85],[1.7,2.85],[1.95,2.9],[2.15,2.78],[2.45,2.85],[2.7,2.78],[2.9,2.6],[3.1,2.5],[3.35,2.42],[3.25,2.65],[2.6,2.55],[2.35,2.58],[2.05,2.62],[1.75,2.58],[1.42,2.62],[1.15,2.6],[1.05,2.18],[1.3,2.38],[1.55,2.4],[1.85,2.38],[2.1,2.4],[2.4,2.32],[2.65,2.28],[2.95,2.32],[3.15,2.2],[2.9,2.08],[2.6,2.05],[2.3,2.12],[2.05,2.18],[1.75,2.15],[1.45,2.18],[1.2,2.15],[1.05,1.95],[1.3,1.95],[1.55,1.95],[1.8,1.95],[2.05,1.95],[2.35,1.9],[2.6,1.82],[2.85,1.8],[3.05,1.68],[2.5,1.6],[2.2,1.7],[1.95,1.75],[1.68,1.75],[1.42,1.75],[1.18,1.75],[1.02,1.6],[1.25,1.55],[1.48,1.55],[1.72,1.55],[1.95,1.52],[2.22,1.48],[2.45,1.42],[1.1,1.4],[1.3,1.38],[1.52,1.38],[1.75,1.36],[1.95,1.34],[2.2,1.32],[2.55,1.32],[1.02,1.32],[1.2,1.32],[1.42,1.32],[1.62,1.32],[1.8,1.32],[1.6,2.05],[1.35,2.08],[1.9,2.08],[1.12,1.85],[1.65,2.25],[2.25,2.28],[1.1,1.52],[1.85,1.42],[1.35,1.65],[1.6,1.65],[2.0,1.62],[2.15,2.0],[2.7,2.42],[3.0,2.2],[1.85,2.75],[1.58,3.0],[2.2,2.95],[2.55,3.0],[2.78,3.0],[3.1,3.0],[1.05,2.72],[1.3,2.75]];
const d1UpExtra=[[1.12,1.46],[1.38,1.46],[1.62,1.46],[1.88,1.48],[2.1,1.4],[2.35,1.52],[1.15,1.62],[1.5,1.66],[1.78,1.66],[2.12,1.6],[2.35,1.66],[1.3,1.82],[1.52,1.85],[1.75,1.85],[2.0,1.85],[2.22,1.82],[2.5,1.75],[2.72,1.7],[1.15,2.0],[1.42,2.02],[1.7,2.05],[2.0,2.06],[2.25,2.0],[2.45,2.05],[2.75,1.95],[1.3,2.22],[1.55,2.25],[1.82,2.22],[2.15,2.25],[2.45,2.2],[2.8,2.2],[1.1,2.42],[1.42,2.42],[1.72,2.42],[2.0,2.45],[2.25,2.45],[2.52,2.42],[2.8,2.42],[3.05,2.35],[1.28,2.6],[1.58,2.62],[1.9,2.6],[2.2,2.62],[2.48,2.65],[2.75,2.58],[3.0,2.65],[1.15,2.8],[1.52,2.75],[1.82,2.75],[2.32,2.8],[2.6,2.82],[2.85,2.92]];

const d2Down=[[-5.1,2.14],[-3.69,2.25],[-1.81,2.69],[-1.48,2.16],[-2.6,2.01],[-3.1,1.94],[-2.98,1.91],[-2.87,1.79],[-2.25,1.79],[-2.15,1.8],[-1.83,2.02],[-1.7,1.98],[-1.92,1.88],[-3.92,1.58],[-4.69,1.3],[-3.71,1.31],[-2.4,1.63],[-1.67,1.72],[-1.31,1.73],[-1.31,1.64],[-1.15,1.56],[-1.15,1.49],[-2.35,1.55],[-2.25,1.52],[-2.19,1.46],[-2.6,1.46],[-2.64,1.4],[-1.83,1.52],[-1.63,1.54],[-1.83,1.43],[-1.58,1.4],[-1.35,1.5],[-1.35,1.32],[-2.56,1.3],[-2.05,1.35],[-1.73,1.34],[-1.69,1.32],[-1.1,1.32],[-1.27,1.36]];
const d2Nodiff=[[-8.23,0.49],[5.55,0.7],[4.5,0.46],[3.4,0.37],[4.83,1.08],[4.2,1.06],[4.05,1.0],[3.85,1.15],[4.05,0.8],[-5.2,0.82],[-5.08,0.52],[-4.63,1.03],[-4.33,1.2],[-4.45,0.55],[-4.3,0.65],[-3.73,0.05],[-4.0,0.72],[-3.8,0.58],[-3.6,0.92],[-3.45,0.62],[-3.25,0.45],[-3.05,0.82],[-3.1,0.25],[-3.0,0.08],[-2.8,0.08],[-3.5,1.2],[-3.3,1.08],[-3.05,1.25],[-2.8,1.2],[-2.7,1.05],[-2.9,0.6],[-2.5,1.2],[-2.25,1.22],[-2.0,1.2],[-1.75,1.24],[-1.5,1.22],[-1.25,1.24],[-1.0,1.22],[-0.75,1.24],[-0.5,1.22],[0.5,1.22],[0.75,1.24],[1.0,1.22],[1.25,1.24],[1.5,1.22],[1.75,1.24],[2.0,1.22],[2.25,1.25],[-2.6,0.95],[-2.35,1.0],[-2.1,1.0],[-1.85,1.02],[-1.6,1.0],[-1.35,1.02],[-1.1,1.0],[-0.85,1.02],[-0.6,1.0],[0.35,1.0],[0.6,1.02],[0.85,1.0],[1.1,1.02],[1.35,1.0],[1.6,1.02],[1.85,1.0],[2.1,1.02],[2.4,1.0],[2.7,1.02],[-2.75,0.78],[-2.5,0.75],[-2.25,0.78],[-2.0,0.8],[-1.75,0.78],[-1.5,0.8],[-1.25,0.78],[-1.0,0.8],[-0.75,0.78],[-0.5,0.8],[0.2,0.78],[0.45,0.8],[0.7,0.78],[0.95,0.8],[1.2,0.78],[1.45,0.8],[1.7,0.78],[1.95,0.8],[2.25,0.78],[2.6,0.72],[3.05,0.72],[-2.65,0.55],[-2.4,0.52],[-2.15,0.58],[-1.9,0.6],[-1.65,0.58],[-1.4,0.6],[-1.15,0.58],[-0.9,0.6],[-0.65,0.58],[-0.4,0.6],[-0.15,0.62],[0.1,0.6],[0.35,0.58],[0.6,0.6],[0.85,0.58],[1.1,0.6],[1.35,0.58],[1.6,0.6],[1.85,0.58],[2.1,0.55],[2.5,0.58],[2.8,0.6],[3.15,0.55],[-2.45,0.3],[-2.15,0.38],[-1.9,0.4],[-1.65,0.38],[-1.4,0.4],[-1.15,0.38],[-0.9,0.4],[-0.65,0.38],[-0.4,0.4],[-0.15,0.42],[0.1,0.4],[0.35,0.38],[0.6,0.4],[0.85,0.38],[1.1,0.4],[1.35,0.38],[1.6,0.4],[1.85,0.38],[2.15,0.35],[-2.2,0.2],[-1.95,0.2],[-1.7,0.22],[-1.45,0.2],[-1.2,0.22],[-0.95,0.2],[-0.7,0.22],[-0.45,0.2],[-0.2,0.22],[0.05,0.2],[0.3,0.22],[0.55,0.2],[0.8,0.22],[1.05,0.2],[1.3,0.22],[1.55,0.2],[1.8,0.2],[2.3,0.25],[-2.0,0.04],[-1.75,0.04],[-1.5,0.04],[-1.25,0.04],[-1.0,0.04],[-0.75,0.04],[-0.5,0.04],[-0.25,0.04],[0,0.04],[0.25,0.04],[0.5,0.04],[0.75,0.04],[1.0,0.04],[1.25,0.04],[1.5,0.04],[-0.58,1.94],[-0.73,1.9],[-0.5,1.84],[0.63,2.19],[0.88,2.13],[0.95,2.0],[0.3,1.72],[0.6,1.72],[0.85,1.75],[0.95,1.6],[0.7,1.55],[0.45,1.5],[0.85,1.42],[0.55,1.35],[0.3,1.3],[-0.75,1.5],[-0.95,1.42],[-0.55,1.35],[-0.82,1.32],[-0.3,1.3],[0.72,1.88],[0.82,1.32]];
const d2NodiffExtra=[[-2.62,1.1],[-2.38,1.11],[-2.12,1.1],[-1.88,1.11],[-1.62,1.1],[-1.38,1.11],[-1.12,1.1],[-0.88,1.11],[-0.62,1.1],[-0.38,1.11],[0.42,1.11],[0.68,1.1],[0.92,1.11],[1.18,1.1],[1.42,1.11],[1.68,1.1],[1.92,1.11],[2.18,1.1],[2.45,1.12],[-2.42,0.88],[-2.18,0.89],[-1.92,0.91],[-1.68,0.89],[-1.42,0.91],[-1.18,0.89],[-0.92,0.91],[-0.68,0.89],[-0.42,0.91],[0.28,0.89],[0.52,0.91],[0.78,0.89],[1.02,0.91],[1.28,0.89],[1.52,0.91],[1.78,0.89],[2.02,0.91],[2.32,0.89],[-2.38,0.65],[-2.12,0.69],[-1.88,0.7],[-1.62,0.69],[-1.38,0.7],[-1.12,0.69],[-0.88,0.7],[-0.62,0.69],[-0.38,0.7],[-0.12,0.72],[0.12,0.7],[0.38,0.69],[0.62,0.7],[0.88,0.69],[1.12,0.7],[1.38,0.69],[1.62,0.7],[1.88,0.69],[2.15,0.67],[-2.28,0.45],[-2.02,0.49],[-1.78,0.5],[-1.52,0.49],[-1.28,0.5],[-1.02,0.49],[-0.78,0.5],[-0.52,0.49],[-0.28,0.5],[-0.02,0.52],[0.22,0.5],[0.48,0.49],[0.72,0.5],[0.98,0.49],[1.22,0.5],[1.48,0.49],[1.72,0.5],[1.98,0.47],[-1.82,0.3],[-1.58,0.3],[-1.32,0.31],[-1.08,0.3],[-0.82,0.31],[-0.58,0.3],[-0.32,0.31],[-0.08,0.3],[0.18,0.31],[0.42,0.3],[0.68,0.31],[0.92,0.3],[1.18,0.31],[1.42,0.3],[1.72,0.3],[-1.62,0.12],[-1.38,0.12],[-1.12,0.13],[-0.88,0.12],[-0.62,0.13],[-0.38,0.12],[-0.12,0.13],[0.12,0.12],[0.38,0.13],[0.62,0.12],[0.88,0.13],[1.12,0.12],[1.38,0.13],[-0.65,1.42],[-0.6,1.62],[-0.82,1.38],[0.6,1.5],[0.75,1.68],[0.4,1.4],[0.72,1.32],[0.95,1.32]];
const d2Up=[[7.04,4.66],[7.15,4.47],[9.13,3.98],[4.74,4.02],[3.68,3.53],[3.82,3.45],[2.57,3.29],[2.7,3.24],[5.89,3.29],[6.39,3.12],[1.82,3.1],[3.8,3.02],[5.41,3.0],[1.03,2.86],[3.8,2.84],[4.87,2.79],[5.5,2.75],[2.05,2.72],[2.15,2.72],[4.24,2.72],[3.99,2.69],[3.11,2.63],[1.14,2.65],[1.12,2.6],[2.55,2.6],[2.62,2.56],[4.3,2.57],[3.93,2.52],[4.43,2.47],[4.14,2.43],[3.85,2.41],[5.3,2.43],[2.6,2.38],[2.13,2.27],[3.7,2.23],[4.14,2.24],[2.63,2.18],[4.29,2.1],[2.47,2.06],[1.8,2.03],[1.53,2.03],[3.43,1.97],[3.11,1.89],[3.0,1.86],[4.5,1.9],[2.44,1.86],[2.52,1.84],[2.07,1.84],[1.34,1.81],[1.67,1.8],[3.49,1.74],[3.24,1.71],[1.0,1.68],[2.13,1.72],[1.95,1.68],[1.82,1.72],[1.2,1.72],[1.15,1.62],[1.18,1.55],[1.15,1.48],[1.2,1.4],[1.6,1.62],[1.7,1.55],[1.5,1.52],[1.8,1.52],[2.67,1.62],[3.76,1.57],[3.4,1.5],[3.35,1.46],[2.2,1.47],[2.3,1.4],[3.25,1.38],[2.6,1.35],[2.72,1.34],[3.1,1.31],[4.1,1.32],[1.5,1.35],[1.62,1.35],[1.3,1.42],[1.3,1.32]];

const NS='http://www.w3.org/2000/svg';
const svg=document.getElementById('fig');
function mk(tag,attrs,parent){
  const el=document.createElementNS(NS,tag);
  for(const k in attrs){el.setAttribute(k,attrs[k]);}
  (parent||svg).appendChild(el);
  return el;
}
function drawBarChart(panel,upVals,downVals,ticks,g){
  const group=mk('g',{});
  
  
  const maxV=ticks[ticks.length-1];
  const sy=v=>g.y0-v*(g.y0-g.yTop)/maxV;
  const bandW=(g.xRight-g.xLeft)/categories.length;
  const sx=i=>g.xLeft+i*bandW;
  ticks.forEach(t=>{
    const grid=mk('line',{x1:g.xLeft,x2:g.xRight,y1:sy(t),y2:sy(t),stroke:'#e9e9e9','stroke-width':1.6},group);
    
    
    const tick=mk('line',{x1:g.xLeft-11,x2:g.xLeft,y1:sy(t),y2:sy(t),stroke:'#808080','stroke-width':1.5},group);
    
    
    const lab=mk('text',{x:g.xLeft-16,y:sy(t)+5,'text-anchor':'end','font-size':13.5,fill:'#222'},group);
    lab.textContent=t;
    
    
  });
  categories.forEach((c,i)=>{
    const gl=mk('line',{x1:sx(i+1),x2:sx(i+1),y1:g.yTop,y2:g.y0,stroke:'#e9e9e9','stroke-width':1.6},group);
    
    
  });
  categories.forEach((c,i)=>{
    const cx=sx(i)+bandW/2;
    const barW=64.5;
    const rUp=mk('rect',{x:cx-barW-0.7,y:sy(upVals[i]),width:barW,height:g.y0-sy(upVals[i]),fill:'#dc0000',stroke:'#f2b5b5','stroke-width':0.6},group);
    
    
    const rDown=mk('rect',{x:cx+0.7,y:sy(downVals[i]),width:barW,height:g.y0-sy(downVals[i]),fill:'#0000fa',stroke:'#9a9aff','stroke-width':0.6},group);
    
    
    const vUp=mk('text',{x:cx-barW/2-0.7,y:sy(upVals[i])-13,'text-anchor':'middle','font-size':14,fill:'#222'},group);
    vUp.textContent=upVals[i];
    
    
    const vDown=mk('text',{x:cx+barW/2+0.7,y:sy(downVals[i])-13,'text-anchor':'middle','font-size':14,fill:'#222'},group);
    vDown.textContent=downVals[i];
    
    
    const cl=mk('text',{x:cx,y:g.y0+22,'text-anchor':'middle','font-size':13,fill:'#222'},group);
    cl.textContent=c;
    
    
  });
  const yAxis=mk('line',{x1:g.xLeft,x2:g.xLeft,y1:g.yTop,y2:g.y0+10,stroke:'#858585','stroke-width':2},group);
  
  
  const xAxis=mk('line',{x1:g.xLeft,x2:g.xRight,y1:g.y0,y2:g.y0,stroke:'#6e6e6e','stroke-width':1.5},group);
  
  
  categories.forEach((c,i)=>{
    const t=mk('line',{x1:sx(i+1),x2:sx(i+1),y1:g.y0,y2:g.y0+10,stroke:'#777','stroke-width':1.5},group);
    
    
  });
  const title=mk('text',{x:0,y:0,transform:'translate('+g.titleX+','+g.titleY+') rotate(-90)','text-anchor':'middle','font-size':13.5,fill:'#222'},group);
  title.textContent='Number of metabolites';
  
  
  seriesNames.forEach((s,i)=>{
    const sw=mk('rect',{x:g.legendX,y:78+i*20,width:11.5,height:11.5,fill:i===0?'#dc0000':'#0000fa'},group);
    
    
    const tx=mk('text',{x:g.legendX+20,y:88+i*20,'font-size':13,'font-weight':'bold',fill:'#222'},group);
    tx.textContent=s;
    
    
  });
}
function drawVolcano(panel,down,nodiff,up,ticks,g){
  const group=mk('g',{});
  
  
  const sx=v=>g.x0+v*g.kx;
  const sy=v=>g.y0-v*g.ky;
  const series=[[nodiff,'#bebebe','nodiff'],[down,'#0000f5','down'],[up,'#dc0000','up']];
  series.forEach(s=>{
    s[0].forEach(p=>{
      const c=mk('circle',{cx:sx(p[0]),cy:sy(p[1]),r:2.3,fill:s[1]},group);
      
      
    });
  });
  const thresholds=[-1,1];
  thresholds.forEach(t=>{
    const v=mk('line',{x1:sx(t),x2:sx(t),y1:g.top,y2:g.bottom,stroke:'#333','stroke-width':1.4,'stroke-dasharray':'5 4'},group);
    
    
  });
  const h=mk('line',{x1:g.left,x2:g.right+2,y1:sy(1.3),y2:sy(1.3),stroke:'#333','stroke-width':1.4,'stroke-dasharray':'5 4'},group);
  
  
  const box=mk('rect',{x:g.left,y:g.top,width:g.right-g.left,height:g.bottom-g.top,fill:'none',stroke:'#444','stroke-width':1.6},group);
  
  
  ticks.x.forEach(t=>{
    const l=mk('line',{x1:sx(t),x2:sx(t),y1:g.bottom,y2:g.bottom+6,stroke:'#444','stroke-width':1.3},group);
    
    
    const tx=mk('text',{x:sx(t),y:752,'text-anchor':'middle','font-size':14,fill:'#222'},group);
    tx.textContent=String(t).replace('-','\u2212');
    
    
  });
  ticks.y.forEach(t=>{
    const l=mk('line',{x1:g.left-6,x2:g.left,y1:sy(t),y2:sy(t),stroke:'#444','stroke-width':1.3},group);
    
    
    const tx=mk('text',{x:g.left-8,y:sy(t)+5,'text-anchor':'end','font-size':14,fill:'#222'},group);
    tx.textContent=t;
    
    
  });
  const colors=['#0000f5','#bebebe','#dc0000'];
  volcanoLegend.forEach((s,i)=>{
    const c=mk('circle',{cx:g.legendX,cy:g.legendY+i*22,r:4.6,fill:colors[i]},group);
    
    
    const tx=mk('text',{x:g.legendX+9.5,y:g.legendY+i*22+4.5,'font-size':12.7,fill:'#333'},group);
    tx.textContent=s;
    
    
  });
  const title=mk('text',{x:g.titleX,y:792,'text-anchor':'middle','font-size':26.5,fill:'#111'},group);
  title.textContent=g.title;
  
  
}
drawBarChart('a',upA,downA,ticksA,{xLeft:108,xRight:765,y0:389,yTop:12,titleX:58.5,titleY:200,legendX:790});
drawBarChart('b',upB,downB,ticksB,{xLeft:1010,xRight:1669.5,y0:386.3,yTop:12,titleX:968,titleY:199,legendX:1695});
drawVolcano('c1',c1Down.concat(c1DownExtra),c1Nodiff.concat(c1NodiffExtra),c1Up.concat(c1UpExtra),c1Ticks,{left:71,right:373,top:516,bottom:734,x0:224.3,kx:19.33,y0:716,ky:31.05,legendX:382,legendY:613.7,titleX:220.5,title:'Model vs Sham'});
drawVolcano('c2',c2Down,c2Nodiff.concat(c2NodiffExtra),c2Up.concat(c2UpExtra),c2Ticks,{left:481,right:780,top:518.3,bottom:734.7,x0:603.7,kx:16.63,y0:716.7,ky:32.06,legendX:788,legendY:615.7,titleX:635,title:'Model vs PAS840H'});
drawVolcano('d1',d1Down.concat(d1DownExtra),d1Nodiff.concat(d1NodiffExtra),d1Up.concat(d1UpExtra),d1Ticks,{left:998,right:1300,top:515.3,bottom:734,x0:1172.7,kx:21.2,y0:716,ky:35.73,legendX:1310,legendY:613.7,titleX:1156.7,title:'Model vs Sham'});
drawVolcano('d2',d2Down,d2Nodiff.concat(d2NodiffExtra),d2Up,d2Ticks,{left:1411.7,right:1718.3,top:518.3,bottom:734.3,x0:1558,kx:15.95,y0:716.3,ky:38.73,legendX:1727.3,legendY:615.7,titleX:1568,title:'Model vs PAS840H'});
</script>
</body>
</html>
